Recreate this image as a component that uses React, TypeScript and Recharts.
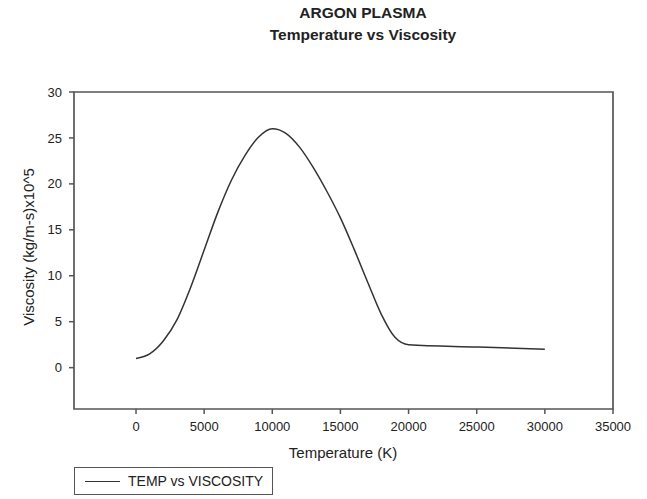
import { Line, LineChart, ReferenceArea, XAxis, YAxis } from "recharts";

// Argon plasma: viscosity against temperature
const temperatureK = [
  0, 1000, 2000, 3000, 4000, 5000, 6000, 7000, 8000, 9000, 10000, 11000, 12000, 13000, 14000, 15000,
  16000, 17000, 18000, 19000, 20000, 25000, 30000,
];
const viscosity = [
  1.0, 1.5, 2.9, 5.2, 8.7, 12.8, 16.9, 20.4, 23.1, 25.1, 26.0, 25.5, 24.0, 21.8, 19.2, 16.3, 12.9, 9.3,
  5.8, 3.3, 2.5, 2.25, 2.0,
];
const xTicks = [0, 5000, 10000, 15000, 20000, 25000, 30000, 35000];
const yTicks = [0, 5, 10, 15, 20, 25, 30];
const xDomain: [number, number] = [-4550, 35000];
const yDomain: [number, number] = [-4.5, 30];

const FONT = "'Liberation Sans', Arial, sans-serif";
const AXIS = "#555";

const data = temperatureK.map((t, i) => ({ t, v: viscosity[i] }));

export default function App() {
  return (
    <div
      style={{
        position: "absolute",
        left: 0,
        top: 0,
        width: 647,
        height: 499,
        background: "#fff",
        fontFamily: FONT,
        color: "#222",
      }}
    >
      <div
        style={{
          position: "absolute",
          left: 0,
          width: 726,
          top: 2,
          textAlign: "center",
          fontWeight: "bold",
          fontSize: 15.5,
          lineHeight: "22px",
        }}
      >
        <div>ARGON PLASMA</div>
        <div>Temperature vs Viscosity</div>
      </div>

      <LineChart width={647} height={499} data={data} margin={{ top: 92, right: 34, bottom: 50, left: 0 }}>
        <ReferenceArea
          x1={xDomain[0]}
          x2={xDomain[1]}
          y1={yDomain[0]}
          y2={yDomain[1]}
          fill="none"
          stroke={AXIS}
          strokeWidth={1.7}
          ifOverflow="visible"
        />
        <XAxis
          type="number"
          dataKey="t"
          domain={xDomain}
          ticks={xTicks}
          allowDataOverflow
          height={40}
          axisLine={false}
          tickSize={5}
          tickMargin={8}
          tickLine={{ stroke: AXIS, strokeWidth: 1.5 }}
          tick={{ fill: "#222", fontSize: 13, fontFamily: FONT }}
        />
        <YAxis
          type="number"
          domain={yDomain}
          ticks={yTicks}
          allowDataOverflow
          width={74}
          axisLine={false}
          tickSize={5}
          tickMargin={7}
          tickLine={{ stroke: AXIS, strokeWidth: 1.5 }}
          tick={{ fill: "#222", fontSize: 13, fontFamily: FONT }}
        />
        <Line
          type="monotone"
          dataKey="v"
          stroke="#333"
          strokeWidth={1.5}
          dot={false}
          isAnimationActive={false}
        />
      </LineChart>

      <div
        style={{
          position: "absolute",
          left: 28,
          top: 247,
          transform: "translate(-50%, -50%) rotate(-90deg)",
          whiteSpace: "nowrap",
          fontSize: 15,
        }}
      >
        Viscosity (kg/m-s)x10^5
      </div>
      <div
        style={{
          position: "absolute",
          left: 343,
          top: 452,
          transform: "translate(-50%, -50%)",
          whiteSpace: "nowrap",
          fontSize: 15,
        }}
      >
        Temperature (K)
      </div>

      <div
        style={{
          position: "absolute",
          left: 74,
          top: 467,
          width: 199,
          height: 28,
          boxSizing: "border-box",
          border: `1.5px solid ${AXIS}`,
          display: "flex",
          alignItems: "center",
          fontSize: 14,
        }}
      >
        <div style={{ width: 35, marginLeft: 10, borderTop: "1.5px solid #333" }} />
        <span style={{ marginLeft: 8, whiteSpace: "nowrap" }}>TEMP vs VISCOSITY</span>
      </div>
    </div>
  );
}
